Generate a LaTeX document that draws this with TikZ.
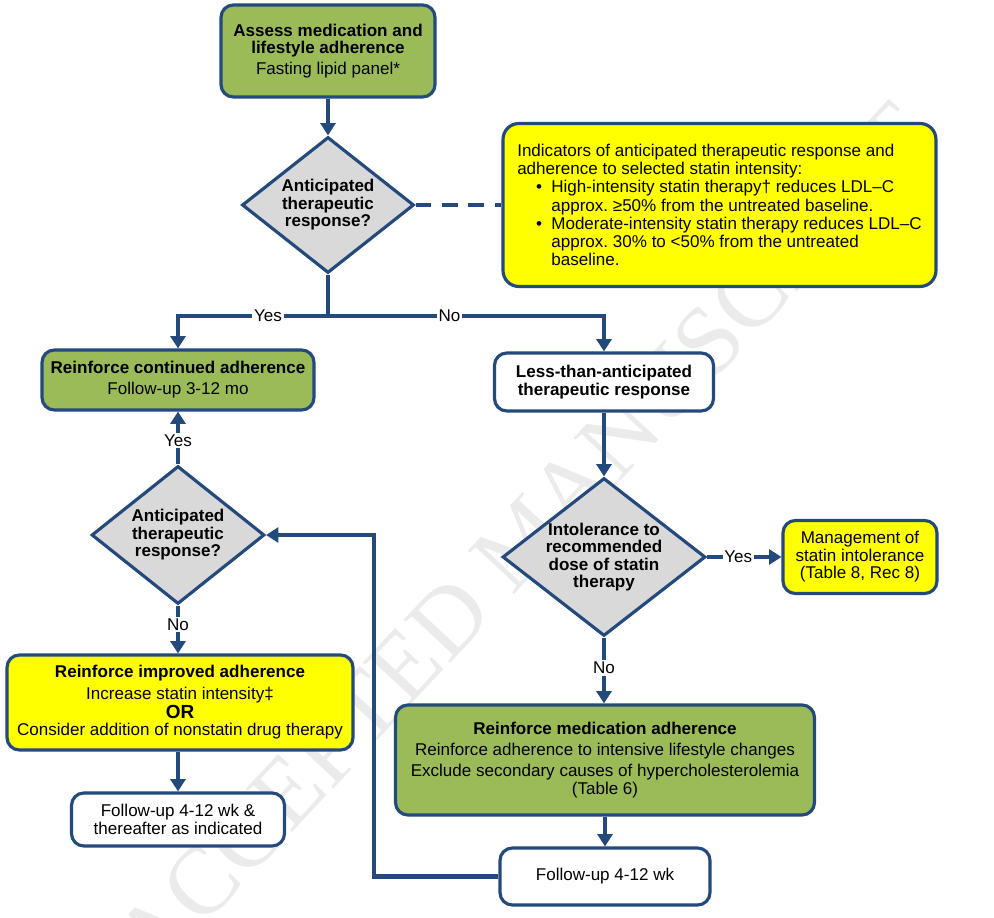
\documentclass[tikz,border=0pt]{standalone}
\usepackage{fontspec}
\setmainfont{Liberation Sans}
\newfontfamily\wmfont{Liberation Serif}
\usetikzlibrary{shapes.geometric}
\usetikzlibrary{arrows.meta}
\definecolor{lineblue}{RGB}{36,73,125}
\definecolor{boxgreen}{RGB}{155,187,89}
\definecolor{boxyellow}{RGB}{255,255,0}
\definecolor{diagray}{RGB}{217,217,217}
\newcommand{\bitem}{\hspace*{1.1em}\makebox[0.9em][l]{\textbullet}}
\newcommand{\bcont}{\hspace*{2.0em}}
\frenchspacing

\begin{document}
\begin{tikzpicture}[x=0.02cm,y=-0.02cm,
  box/.style={draw=lineblue, line width=1.8pt, rounded corners=7pt, align=center,
    inner sep=2pt, font=\fontsize{9.7}{10}\selectfont},
  greenbox/.style={box, fill=boxgreen},
  yellowbox/.style={box, fill=boxyellow},
  whitebox/.style={box, fill=white},
  decision/.style={diamond, draw=lineblue, line width=1.8pt, fill=diagray, inner sep=-3pt,
    align=center, font=\fontsize{9.7}{10}\selectfont\bfseries},
  flow/.style={draw=lineblue, line width=2.3pt, -{Triangle[width=8.5pt,length=7pt]}},
  link/.style={draw=lineblue, line width=2.3pt},
  lbl/.style={fill=white, inner sep=1pt, font=\fontsize{9.7}{10}\selectfont}]
\useasboundingbox (0,0) rectangle (994,918);
\clip (0,0) rectangle (994,918);

% watermark
\node[font=\wmfont\fontsize{55}{55}\selectfont, text=black!8, rotate=47,
  anchor=base west, inner sep=0pt] (wm) at (155,980) {ACCEPTED MANUSCRIPT};

% boxes
\node[greenbox, minimum width=4.28cm, minimum height=1.84cm] (assess) at (328,51)
  {\textbf{Assess medication and}\\\textbf{lifestyle adherence}\\[2pt]Fasting lipid panel*};
\node[decision, minimum width=3.44cm, minimum height=2.72cm, shape aspect=1.26] (dia1) at (328,205)
  {Anticipated\\therapeutic\\response?};
\node[yellowbox, minimum width=8.66cm, minimum height=3.26cm, align=left,
  rounded corners=9pt, font=\fontsize{9.7}{10.4}\selectfont] (info) at (719.5,205)
  {Indicators of anticipated therapeutic response and\\
   adherence to selected statin intensity:\\
   \bitem High-intensity statin therapy† reduces LDL–C\\
   \bcont approx. ≥50\% from the untreated baseline.\\
   \bitem Moderate-intensity statin therapy reduces LDL–C\\
   \bcont approx. 30\% to <50\% from the untreated\\
   \bcont baseline.};

\node[greenbox, minimum width=5.44cm, minimum height=1.2cm] (cont) at (178,380)
  {\textbf{Reinforce continued adherence}\\[2pt]Follow-up 3-12 mo};
\node[whitebox, minimum width=4.38cm, minimum height=1.16cm, font=\fontsize{9.7}{10}\selectfont\bfseries] (less) at (604,382)
  {Less-than-anticipated\\therapeutic response};

\node[decision, minimum width=4.06cm, minimum height=3.16cm, shape aspect=1.28] (dia2) at (604,557)
  {Intolerance to\\recommended\\dose of statin\\therapy};
\node[yellowbox, minimum width=3.08cm, minimum height=1.46cm] (mgmt) at (860,557)
  {Management of\\statin intolerance\\(Table 8, Rec 8)};
\node[greenbox, minimum width=8.38cm, minimum height=2.2cm] (med) at (605,760)
  {\textbf{Reinforce medication adherence}\\[2pt]
   Reinforce adherence to intensive lifestyle changes\\[2pt]
   Exclude secondary causes of hypercholesterolemia\\(Table 6)};
\node[whitebox, minimum width=4.2cm, minimum height=1.14cm] (fu2) at (605,876.5)
  {Follow-up 4-12 wk};

\node[decision, minimum width=3.46cm, minimum height=2.76cm, shape aspect=1.25] (dia3) at (178,535)
  {Anticipated\\therapeutic\\response?};
\node[yellowbox, minimum width=6.92cm, minimum height=1.9cm] (impr) at (180,702.5)
  {\textbf{Reinforce improved adherence}\\[2pt]
   Increase statin intensity‡\\[1pt]
   {\fontsize{10.8}{11}\selectfont\bfseries OR}\\
   Consider addition of nonstatin drug therapy};
\node[whitebox, minimum width=4.26cm, minimum height=1.06cm] (fu1) at (178,819.5)
  {Follow-up 4-12 wk \&\\thereafter as indicated};

% connectors
\coordinate (split) at (328,316);
\draw[flow] (assess.south) -- (dia1.north);
\draw[link, dash pattern=on 9pt off 6pt] (dia1.east) -- (info.west);
\draw[link] (dia1.south) -- (split);
\draw[flow] (split) -| node[lbl, pos=0.2] {Yes} (cont.north);
\draw[flow] (split) -| node[lbl, pos=0.22] {No} (less.north);
\draw[flow] (less.south) -- (dia2.north);
\draw[flow] (dia2.east) -- node[lbl, pos=0.42] {Yes} (mgmt.west);
\draw[flow] (dia2.south) -- node[lbl, pos=0.46] {No} (dia2.south |- med.north);
\draw[flow] (med.south) -- (fu2.north);
\draw[flow] (fu2.west) -- ++(-124,0) |- (dia3.east);
\draw[flow] (dia3.north) -- node[lbl, pos=0.45] {Yes} (cont.south);
\draw[flow] (dia3.south) -- node[lbl, pos=0.4] {No} (dia3.south |- impr.north);
\draw[flow] (impr.south -| fu1.north) -- (fu1.north);
\end{tikzpicture}
\end{document}
